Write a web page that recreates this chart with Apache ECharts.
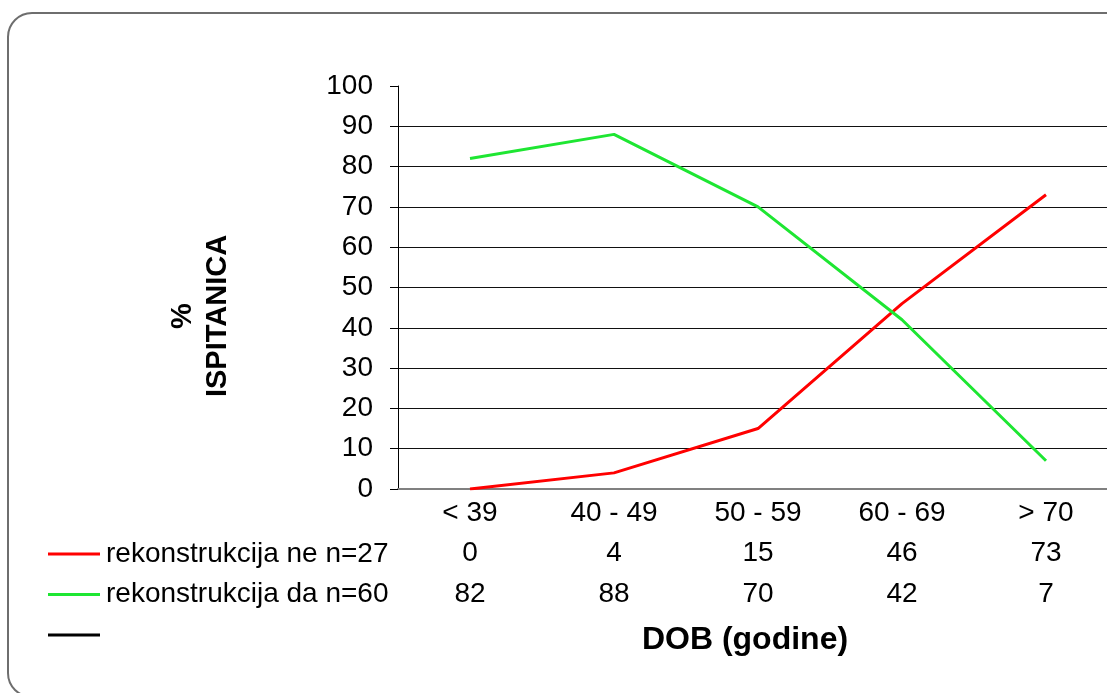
<!DOCTYPE html>
<html>
<head>
<meta charset="utf-8">
<script src="https://cdn.jsdelivr.net/npm/echarts@6/dist/echarts.min.js"></script>
<style>
  html, body { margin: 0; padding: 0; background: #fff; overflow: hidden; }
  #chart { width: 1140px; height: 720px; }
</style>
</head>
<body>
<div id="chart"></div>
<script>
// podaci
const categories = ['< 39', '40 - 49', '50 - 59', '60 - 69', '> 70'];
const seriesNames = ['rekonstrukcija ne n=27', 'rekonstrukcija da n=60', ' '];
const rekonstrukcijaNe = [0, 4, 15, 46, 73];
const rekonstrukcijaDa = [82, 88, 70, 42, 7];
const yTicks = [0, 10, 20, 30, 40, 50, 60, 70, 80, 90, 100];

const font = 'Liberation Sans, Arial, sans-serif';

// platno je malo šire od prozora, desni rub crteža je odrezan kao u originalu
let myChart = echarts.init(document.getElementById('chart'));
myChart.setOption({
  backgroundColor: '#fff',
  animation: false,
  grid: {
    left: 398,
    top: 86,
    width: 720,
    height: 403
  },
  legend: {
    orient: 'vertical',
    left: 48,
    top: 540,
    padding: 0,
    itemWidth: 52,
    itemHeight: 3,
    itemGap: 12.5,
    icon: 'rect',
    data: seriesNames,
    textStyle: {fontFamily: font, fontSize: 28, lineHeight: 28, color: '#000', padding: [0, 0, 0, 1]}
  },
  xAxis: {
    type: 'category',
    data: categories,
    boundaryGap: true,
    axisLine: {lineStyle: {color: '#808080', width: 2}},
    axisTick: {show: false},
    axisLabel: {
      margin: 4,
      interval: 0,
      formatter: (value, idx) => {
        // tablica podataka ispod osi
        return '{c|' + value + '}\n{v|' + rekonstrukcijaNe[idx] + '}\n{v|' + rekonstrukcijaDa[idx] + '}';
      },
      rich: {
        c: {fontFamily: font, fontSize: 28, color: '#000', lineHeight: 40.5},
        v: {fontFamily: font, fontSize: 28, color: '#000', lineHeight: 40.5}
      }
    }
  },
  yAxis: {
    type: 'value',
    min: yTicks[0],
    max: yTicks[yTicks.length - 1],
    interval: 10,
    axisLine: {show: true, lineStyle: {color: '#000', width: 1}},
    axisTick: {show: true, length: 8, lineStyle: {color: '#000'}},
    axisLabel: {margin: 25, fontFamily: font, fontSize: 28, color: '#000'},
    splitLine: {
      show: true,
      lineStyle: {color: '#111', width: 1},
      showMinLine: false,
      showMaxLine: false
    }
  },
  graphic: [
    {
      type: 'rect',
      silent: true,
      shape: {x: 8, y: 13, width: 1160, height: 684, r: 24},
      style: {fill: 'none', stroke: '#6e6e6e', lineWidth: 2}
    },
    {
      type: 'text',
      x: 200,
      y: 316,
      rotation: Math.PI / 2,
      style: {
        text: '%\nISPITANICA',
        fontFamily: font,
        fontSize: 29,
        fontWeight: 'bold',
        fill: '#000',
        align: 'center',
        verticalAlign: 'middle',
        lineHeight: 35
      }
    },
    {
      type: 'text',
      x: 745,
      y: 640,
      style: {
        text: 'DOB (godine)',
        fontFamily: font,
        fontSize: 32,
        fontWeight: 'bold',
        fill: '#000',
        align: 'center',
        verticalAlign: 'middle'
      }
    }
  ],
  series: [
    {
      name: seriesNames[0],
      type: 'line',
      data: rekonstrukcijaNe,
      symbol: 'none',
      color: '#ff0000',
      lineStyle: {width: 3, color: '#ff0000'}
    },
    {
      name: seriesNames[1],
      type: 'line',
      data: rekonstrukcijaDa,
      symbol: 'none',
      color: '#1ee632',
      lineStyle: {width: 3, color: '#1ee632'}
    },
    {
      name: seriesNames[2],
      type: 'line',
      data: [],
      symbol: 'none',
      color: '#000',
      lineStyle: {width: 3, color: '#000'}
    }
  ]
});
</script>
</body>
</html>
